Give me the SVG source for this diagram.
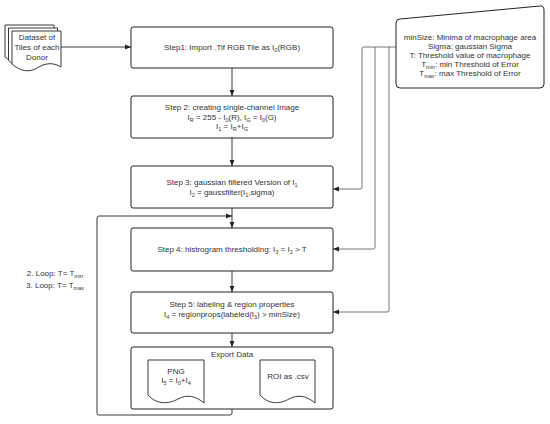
<svg xmlns="http://www.w3.org/2000/svg" width="550" height="424" viewBox="0 0 550 424">
<style>
text{font-family:"Liberation Sans",Arial,sans-serif;font-size:8px;fill:#333;text-anchor:middle}
.box{fill:#fff;stroke:#222;stroke-width:1}
.doc{fill:#fff;stroke:#222;stroke-width:0.9}
.ln{fill:none;stroke:#222;stroke-width:0.9}
.gl{fill:none;stroke:#666;stroke-width:0.9}
.s{font-size:5.5px}
</style>
<defs>
<marker id="ah" viewBox="0 0 10 10" refX="10" refY="5" markerWidth="6" markerHeight="6" orient="auto" markerUnits="userSpaceOnUse">
<path d="M0,1 L10,5 L0,9 Z" fill="#222"/>
</marker>
</defs>
<rect width="550" height="424" fill="#fff"/>

<g id="connectors">
<path class="ln" d="M61,47 H131" marker-end="url(#ah)"/>
<path class="ln" d="M232,68 V96" marker-end="url(#ah)"/>
<path class="ln" d="M232,138 V166" marker-end="url(#ah)"/>
<path class="ln" d="M232,208 V228" marker-end="url(#ah)"/>
<path class="ln" d="M232,271 V292" marker-end="url(#ah)"/>
<path class="ln" d="M232,333 V347" marker-end="url(#ah)"/>
<path class="ln" d="M232,409 V413 Q232,415 230,415 H99 Q97,415 97,413 V218 Q97,216 99,216 H232" marker-end="url(#ah)"/>
<path class="gl" d="M396,47 H364 Q362,47 362,49 V187 Q362,189 360,189 H333" marker-end="url(#ah)"/>
<path class="gl" d="M375,47 V247 Q375,249 373,249 H333" marker-end="url(#ah)"/>
<path class="gl" d="M389,47 V310 Q389,312 387,312 H333" marker-end="url(#ah)"/>
</g>

<g id="dataset">
<path class="doc" d="M5,25 H54 V60 C46,55 38,56 30,61 C22,66 13,64 5,57 Z"/>
<path class="doc" d="M8.5,28 H57.5 V63.5 C49.5,58.5 41.5,59.5 33.5,64.5 C25.5,69.5 16.5,67.5 8.5,60.5 Z"/>
<path class="doc" d="M12,31 H61 V67 C53,62 45,63 37,68 C29,73 20,71 12,64 Z"/>
<text x="37" y="40">Dataset of</text>
<text x="37" y="50">Tiles of each</text>
<text x="37" y="60">Donor</text>
</g>

<g id="step1">
<rect class="box" x="131" y="27" width="202" height="41" rx="2"/>
<text x="232" y="50">Step1: Import .Tif RGB Tile as I<tspan class="s" dy="2">0</tspan><tspan dy="-2">(RGB)</tspan></text>
</g>

<g id="step2">
<rect class="box" x="131" y="96" width="202" height="42" rx="2"/>
<text x="232" y="110">Step 2: creating single-channel Image</text>
<text x="232" y="120">I<tspan class="s" dy="2">R</tspan><tspan dy="-2"> = 255 - I</tspan><tspan class="s" dy="2">0</tspan><tspan dy="-2">(R), I</tspan><tspan class="s" dy="2">G</tspan><tspan dy="-2"> = I</tspan><tspan class="s" dy="2">0</tspan><tspan dy="-2">(G)</tspan></text>
<text x="232" y="129">I<tspan class="s" dy="2">1</tspan><tspan dy="-2">  = I</tspan><tspan class="s" dy="2">R</tspan><tspan dy="-2">+I</tspan><tspan class="s" dy="2">G</tspan></text>
</g>

<g id="step3">
<rect class="box" x="131" y="166" width="202" height="42" rx="2"/>
<text x="232" y="185">Step 3: gaussian filtered Version of I<tspan class="s" dy="2">1</tspan></text>
<text x="232" y="195">I<tspan class="s" dy="2">2</tspan><tspan dy="-2"> = gaussfilter(I</tspan><tspan class="s" dy="2">1</tspan><tspan dy="-2">,sigma)</tspan></text>
</g>

<g id="step4">
<rect class="box" x="131" y="228" width="202" height="43" rx="2"/>
<text x="232" y="252">Step 4: histrogram thresholding: I<tspan class="s" dy="2">3</tspan><tspan dy="-2"> = I</tspan><tspan class="s" dy="2">2</tspan><tspan dy="-2"> &gt; T</tspan></text>
</g>

<g id="step5">
<rect class="box" x="131" y="292" width="202" height="41" rx="2"/>
<text x="232" y="307">Step 5: labeling &amp; region properties</text>
<text x="232" y="317">I<tspan class="s" dy="2">4</tspan><tspan dy="-2"> = regionprops(labeled(I</tspan><tspan class="s" dy="2">3</tspan><tspan dy="-2">) &gt; minSize)</tspan></text>
</g>

<g id="export">
<rect class="box" x="131" y="347" width="202" height="62" rx="2"/>
<text x="232" y="357">Export Data</text>
</g>

<g id="png">
<path class="doc" d="M148,360 H204 V403 C196,396 187,394 178,399 C169,404 157,405 148,395 Z"/>
<text x="176" y="374">PNG</text>
<text x="176" y="383">I<tspan class="s" dy="2">5</tspan><tspan dy="-2"> = I</tspan><tspan class="s" dy="2">0</tspan><tspan dy="-2">+I</tspan><tspan class="s" dy="2">4</tspan></text>
</g>

<g id="roi">
<path class="doc" d="M260,360 H315 V403 C307,396 298,394 289,399 C280,404 269,405 260,395 Z"/>
<text x="288" y="379">ROI as .csv</text>
</g>

<g id="params">
<path class="box" d="M396,23 Q396,19 400,19 L540,6 Q544,5.6 544,10 V84 Q544,88 540,88 H400 Q396,88 396,84 Z"/>
<text x="470" y="40">minSize: Minima of macrophage area</text>
<text x="470" y="49">Sigma: gaussian Sigma</text>
<text x="470" y="58">T: Threshold value of macrophage</text>
<text x="470" y="67">T<tspan class="s" dy="2">min</tspan><tspan dy="-2">: min Threshold of Error</tspan></text>
<text x="470" y="76">T<tspan class="s" dy="2">max</tspan><tspan dy="-2">: max Threshold of Error</tspan></text>
</g>

<g id="loop-label">
<text x="55" y="276">2. Loop: T= T<tspan class="s" dy="2">min</tspan></text>
<text x="55" y="288">3. Loop: T= T<tspan class="s" dy="2">max</tspan></text>
</g>
</svg>
